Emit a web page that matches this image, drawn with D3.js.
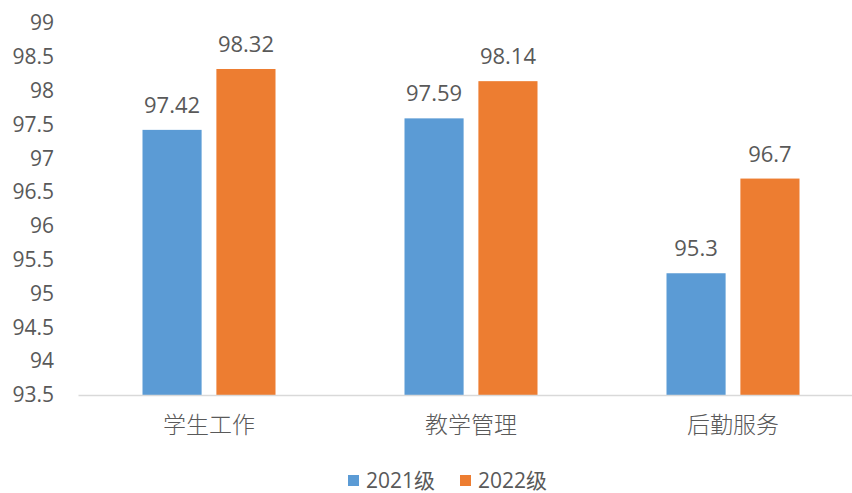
<!DOCTYPE html>
<html>
<head>
<meta charset="utf-8">
<script src="https://cdn.jsdelivr.net/npm/d3@7"></script>
<style>
    body { margin: 0; background: #fff; }
    text { font-family: "Open Sans", "Noto Sans CJK SC", sans-serif; fill: #595959; }
</style>
</head>
<body>
<svg id="bar-chart" width="852" height="493"></svg>
<script>
const categories = ["学生工作", "教学管理", "后勤服务"];
const series = ["2021级", "2022级"];
const values2021 = [97.42, 97.59, 95.3];
const values2022 = [98.32, 98.14, 96.7];
const yTicks = [93.5, 94, 94.5, 95, 95.5, 96, 96.5, 97, 97.5, 98, 98.5, 99];

const seriesColors = {
    "2021级": "#5B9BD5",
    "2022级": "#ED7D31"
};

const width = 852;
const height = 493;
const plotLeft = 78;
const plotRight = 864;
const plotTop = 23;
const plotBottom = 395;

const svg = d3.select("#bar-chart");

const data = categories.map(function (c, i) {
    return { category: c, "2021级": values2021[i], "2022级": values2022[i] };
});

const xScale = d3.scaleBand()
    .domain(categories)
    .range([plotLeft, plotRight]);

const xInner = d3.scaleBand()
    .domain(series)
    .range([0, 133])
    .paddingInner(0.2);

const yScale = d3.scaleLinear()
    .domain([93.5, 99])
    .range([plotBottom, plotTop]);

// y-axis labels, no line
const yAxis = svg.append("g")
    .attr("transform", `translate(${plotLeft - 24}, 0)`)
    .call(d3.axisLeft(yScale).tickValues(yTicks).tickSize(0).tickPadding(0).tickFormat(d3.format("")));
yAxis.select(".domain").remove();
yAxis.selectAll("text")
    .style("font-size", "21px")
    .style("font-family", "'Open Sans', sans-serif")
    .attr("fill", "#595959");

// bars
const groups = svg.selectAll(".group")
    .data(data)
    .join("g")
    .attr("class", "group")
    .attr("transform", function (d) { return `translate(${xScale(d.category) + xScale.bandwidth() / 2 - 66.5}, 0)`; });

groups.selectAll("rect")
    .data(function (d) { return series.map(function (s) { return { key: s, value: d[s] }; }); })
    .join("rect")
    .attr("x", function (d) { return xInner(d.key); })
    .attr("y", function (d) { return yScale(d.value); })
    .attr("width", xInner.bandwidth())
    .attr("height", function (d) { return plotBottom - yScale(d.value); })
    .style("fill", function (d) { return seriesColors[d.key]; });

groups.selectAll(".value")
    .data(function (d) { return series.map(function (s) { return { key: s, value: d[s] }; }); })
    .join("text")
    .attr("class", "value")
    .attr("x", function (d) { return xInner(d.key) + xInner.bandwidth() / 2; })
    .attr("y", function (d) { return yScale(d.value) - 17; })
    .attr("text-anchor", "middle")
    .style("font-size", "22px")
    .text(function (d) { return d.value; });

// x-axis
const xAxis = svg.append("g")
    .attr("transform", `translate(0, ${plotBottom})`)
    .call(d3.axisBottom(xScale).tickSize(0).tickPadding(22));
xAxis.select(".domain").attr("stroke", "#D9D9D9").attr("stroke-width", 1.5);
xAxis.selectAll("text")
    .style("font-size", "23px")
    .style("font-weight", "300")
    .style("font-family", "'Noto Sans CJK SC', sans-serif")
    .attr("fill", "#595959");

// legend
const legend = svg.append("g").attr("transform", "translate(348, 475)");
const legendX = [0, 112];
series.forEach(function (s, i) {
    legend.append("rect")
        .attr("x", legendX[i])
        .attr("y", 0)
        .attr("width", 11)
        .attr("height", 11)
        .style("fill", seriesColors[s]);
    legend.append("text")
        .attr("x", legendX[i] + 18)
        .attr("y", 13)
        .style("font-size", "21px")
        .text(s);
});
</script>
</body>
</html>
